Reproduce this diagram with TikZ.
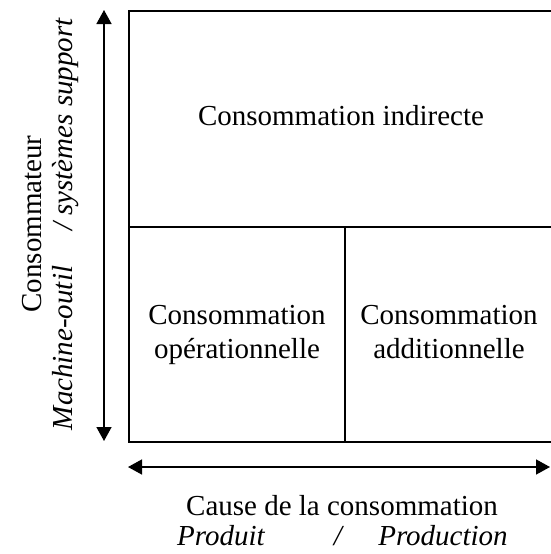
\documentclass[tikz,border=0pt]{standalone}
\usepackage{fontspec}
\setmainfont{Liberation Serif}
\usetikzlibrary{arrows.meta}

\tikzset{
  cell/.style={draw, line width=2pt, inner sep=0pt, anchor=north west, align=center, font=\fontsize{29}{34}\selectfont},
  lbl/.style={inner sep=0pt, anchor=base, font=\fontsize{29}{34}\selectfont},
  axe/.style={line width=1.5pt, {Triangle[width=15pt,length=14pt]}-{Triangle[width=15pt,length=14pt]}}
}

\begin{document}
\begin{tikzpicture}[x=1pt,y=1pt,yscale=-1,xscale=1]
\useasboundingbox (0,0) rectangle (550,554);

%Shape: Rectangle [cells]
\node[cell, minimum width=424, minimum height=216] (indirecte) at (128,10) {\strut Consommation indirecte\strut};
\node[cell, minimum width=216, minimum height=215] (operationnelle) at (128,226) {\strut Consommation\\opérationnelle\strut};
\node[cell, minimum width=208, minimum height=215] (additionnelle) at (344,226) {\strut Consommation\\additionnelle\strut};

%Straight Lines [axes]
\coordinate (ybas) at (104,441);
\coordinate (yhaut) at (104,10);
\coordinate (xgauche) at (128,467);
\coordinate (xdroite) at (550,467);
\draw[axe] (ybas) -- (yhaut);
\draw[axe] (xgauche) -- (xdroite);

%Text Node [consommateur]
\node[lbl, rotate=90] (consommateur) at (41,224) {Consommateur};
\node[lbl, rotate=90] (machine) at (72,348) {\itshape Machine-outil};
\node[lbl, rotate=90] (barre) at (72,226) {\itshape /};
\node[lbl, rotate=90] (support) at (72,117) {\itshape systèmes support};

%Text Node [cause]
\node[lbl] (cause) at (342,515) {Cause de la consommation};
\node[lbl] (produit) at (221,545) {\itshape Produit};
\node[lbl] (slash) at (338,545) {\itshape /};
\node[lbl] (production) at (443,545) {\itshape Production};

\end{tikzpicture}
\end{document}
